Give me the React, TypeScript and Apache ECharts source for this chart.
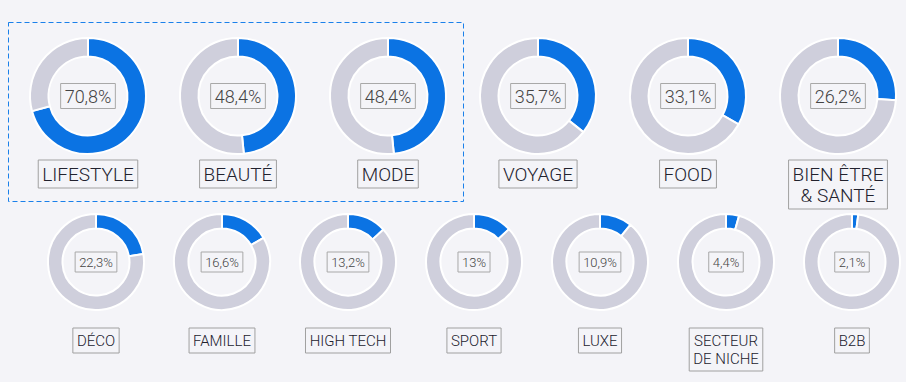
import React, { useEffect, useRef } from "react";
import * as echarts from "echarts";

const topCategories = ["LIFESTYLE", "BEAUTÉ", "MODE", "VOYAGE", "FOOD", "BIEN ÊTRE\n& SANTÉ"];
const topValues = [70.8, 48.4, 48.4, 35.7, 33.1, 26.2];
const bottomCategories = ["DÉCO", "FAMILLE", "HIGH TECH", "SPORT", "LUXE", "SECTEUR\nDE NICHE", "B2B"];
const bottomValues = [22.3, 16.6, 13.2, 13, 10.9, 4.4, 2.1];

const BLUE = "#0b73e3";
const GREY = "#cfcfdc";
const BG = "#f4f4f8";
const FONT = "Roboto, 'Noto Sans', sans-serif";

function fmt(v: number) {
  return String(v).replace(".", ",") + "%";
}

function buildRow(
  cats: string[],
  vals: number[],
  x0: number,
  step: number,
  cy: number,
  rIn: number,
  rOut: number,
  valFont: number,
  labelFont: number,
  labelTop: number,
  labelLine: number
) {
  const series: any[] = [];
  const graphics: any[] = [];
  vals.forEach((v, i) => {
    const cx = x0 + i * step;
    series.push({
      type: "pie",
      center: [cx, cy],
      radius: [rIn, rOut],
      startAngle: 90,
      clockwise: true,
      silent: true,
      emphasis: { disabled: true },
      labelLine: { show: false },
      itemStyle: { borderColor: "#ffffff", borderWidth: 2 },
      data: [
        {
          value: v,
          itemStyle: { color: BLUE },
          label: {
            show: true,
            position: "center",
            formatter: () => fmt(v),
            fontFamily: FONT,
            fontWeight: 300,
            fontSize: valFont,
            color: "#444444",
            borderColor: "#a8a8a8",
            borderWidth: 1,
            padding: [4, 4, 3, 4],
          },
        },
        {
          value: Math.round((100 - v) * 10) / 10,
          itemStyle: { color: GREY },
          label: { show: false },
        },
      ],
    });
    graphics.push({
      type: "text",
      x: cx,
      y: labelTop,
      silent: true,
      style: {
        text: cats[i],
        align: "center",
        verticalAlign: "top",
        fontFamily: FONT,
        fontWeight: 300,
        fontSize: labelFont,
        lineHeight: labelLine,
        fill: "#22222e",
        borderColor: "#a0a0a0",
        borderWidth: 1,
        padding: [4, 4, 3, 4],
      },
    });
  });
  return { series, graphics };
}

export default function App() {
  const ref = useRef<HTMLDivElement>(null);
  useEffect(() => {
    if (!ref.current) return;
    const chart = echarts.init(ref.current, undefined, { renderer: "svg" });
    const top = buildRow(topCategories, topValues, 88, 150, 96, 39.5, 58, 18, 19, 160, 21);
    const bottom = buildRow(bottomCategories, bottomValues, 96, 126, 262, 33.5, 48, 13, 15, 328, 18);
    chart.setOption({
      animation: false,
      backgroundColor: BG,
      series: [...top.series, ...bottom.series],
      graphic: [
        {
          type: "rect",
          silent: true,
          shape: { x: 8.5, y: 22.5, width: 455, height: 179 },
          style: { fill: "none", stroke: "#1a80ea", lineWidth: 1, lineDash: [5, 3] },
        },
        ...top.graphics,
        ...bottom.graphics,
      ],
    });
    return () => chart.dispose();
  }, []);
  return (
    <div
      ref={ref}
      style={{ position: "absolute", left: 0, top: 0, width: 906, height: 382 }}
    />
  );
}
